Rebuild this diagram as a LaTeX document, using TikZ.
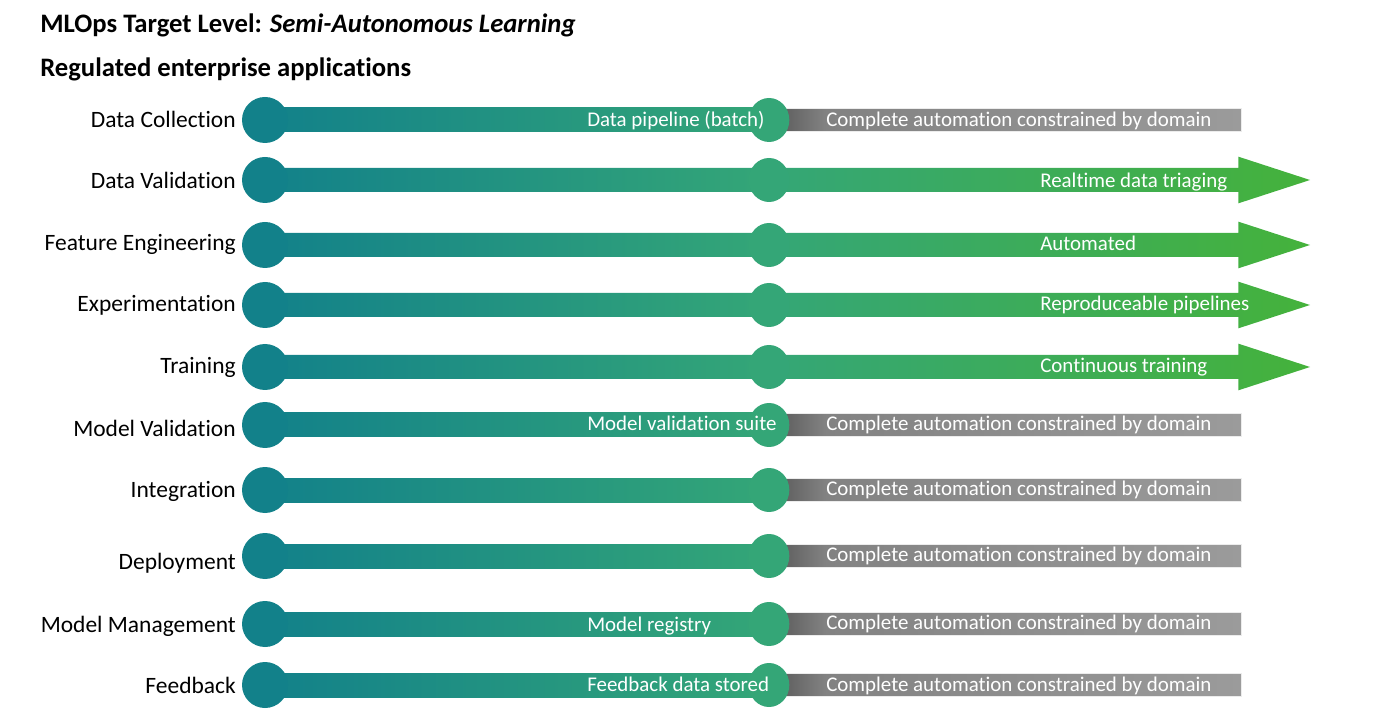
\documentclass[tikz,border=0pt]{standalone}
\usepackage{fontspec}
\setmainfont{Carlito}[Ligatures=NoCommon]
\usetikzlibrary{shapes.geometric}
\definecolor{tealA}{HTML}{12818A}
\definecolor{tealB}{HTML}{34A677}
\definecolor{tealC}{HTML}{45B23B}
\definecolor{grayA}{HTML}{555555}
\definecolor{grayB}{HTML}{828282}
\definecolor{grayC}{HTML}{9B9B9B}
\pgfdeclarehorizontalshading{grayband}{100bp}{color(0bp)=(grayA); color(25bp)=(grayA); color(31bp)=(grayB); color(75bp)=(grayC); color(100bp)=(grayC)}
\pgfdeclarehorizontalshading{arrowband}{100bp}{color(0bp)=(tealA); color(25bp)=(tealA); color(49bp)=(tealB); color(75bp)=(tealC); color(100bp)=(tealC)}
\tikzset{
  rowlabel/.style={anchor=east, inner sep=0pt, font=\fontsize{17.6}{20}\selectfont, text height=0.96em, text depth=0pt},
  bartext/.style={anchor=west, inner sep=0pt, text=white, font=\fontsize{15.7}{18}\selectfont, text height=0.92em, text depth=0pt},
  titletext/.style={anchor=west, inner sep=0pt, font=\fontsize{20}{23}\selectfont\bfseries, text height=0.94em, text depth=0pt},
  startdot/.style={circle, fill=tealA, inner sep=0pt, minimum size=34.5pt},
  middot/.style={ellipse, fill=tealB, inner sep=0pt, minimum width=30.5pt, minimum height=33pt},
  tealbar/.style={left color=tealA, right color=tealB},
  graybar/.style={shading=grayband, draw=white!85!gray, line width=0.6pt},
  greenarrow/.style={shading=arrowband}
}
\begin{document}
\begin{tikzpicture}[x=0.75pt,y=-0.75pt]
\useasboundingbox (0,0) rectangle (1378,716);
\node[titletext] (title) at (40,26) {MLOps Target Level: \textit{Semi-Autonomous Learning}};
\node[titletext] (subtitle) at (40,70) {Regulated enterprise applications};
% row centres
\foreach \i/\y in {1/120,2/180,3/245,4/305,5/367,6/425,7/490,8/556,9/624,10/685}{
  \coordinate (s\i) at (265,\y);
  \coordinate (m\i) at (769,\y);
  \coordinate (e\i) at (1241,\y);
  \coordinate (t\i) at (1310,\y);
}
% gray rows: teal bar + gray bar
\foreach \i in {1,6,7,8,9,10}{
  \shade[tealbar] ([yshift=9pt]s\i) rectangle ([yshift=-9pt]m\i);
  \shade[graybar] ([yshift=8.4pt]m\i) rectangle ([yshift=-8.4pt]e\i);
}
% arrow rows
\foreach \i in {2,3,4,5}{
  \shade[greenarrow] ([yshift=9pt]s\i) -- ([xshift=-2pt,yshift=9pt]e\i) -- ([xshift=-2pt,yshift=17.5pt]e\i) -- (t\i) -- ([xshift=-2pt,yshift=-17.5pt]e\i) -- ([xshift=-2pt,yshift=-9pt]e\i) -- ([yshift=-9pt]s\i) -- cycle;
}
% dots
\foreach \i in {1,...,10}{
  \node[startdot] (S\i) at (s\i) {};
  \node[middot] (M\i) at (m\i) {};
}
% row labels
\foreach \i/\ly/\lab in {1/121/Data Collection,2/182/Data Validation,3/244/Feature Engineering,4/305/Experimentation,5/367/Training,6/430/Model Validation,7/491/Integration,8/563/Deployment,9/626/Model Management,10/687/Feedback}{
  \node[rowlabel] (L\i) at (236,\ly) {\lab};
}
% texts in the teal bars
\node[bartext] (b1) at (587,120) {Data pipeline (batch)};
\node[bartext] (b6) at (587,424) {Model validation suite};
\node[bartext] (b9) at (587,625) {Model registry};
\node[bartext] (b10) at (587,685) {Feedback data stored};
% texts in the green arrows
\node[bartext] (a2) at (1040,181) {Realtime data triaging};
\node[bartext] (a3) at (1040,244) {Automated};
\node[bartext] (a4) at (1040,304) {Reproduceable pipelines};
\node[bartext] (a5) at (1040,366) {Continuous training};
% texts in the gray bars
\foreach \i/\gy in {1/120,6/424,7/489,8/555,9/623,10/685}{
  \node[bartext] (g\i) at (826,\gy) {Complete automation constrained by domain};
}
\end{tikzpicture}
\end{document}
